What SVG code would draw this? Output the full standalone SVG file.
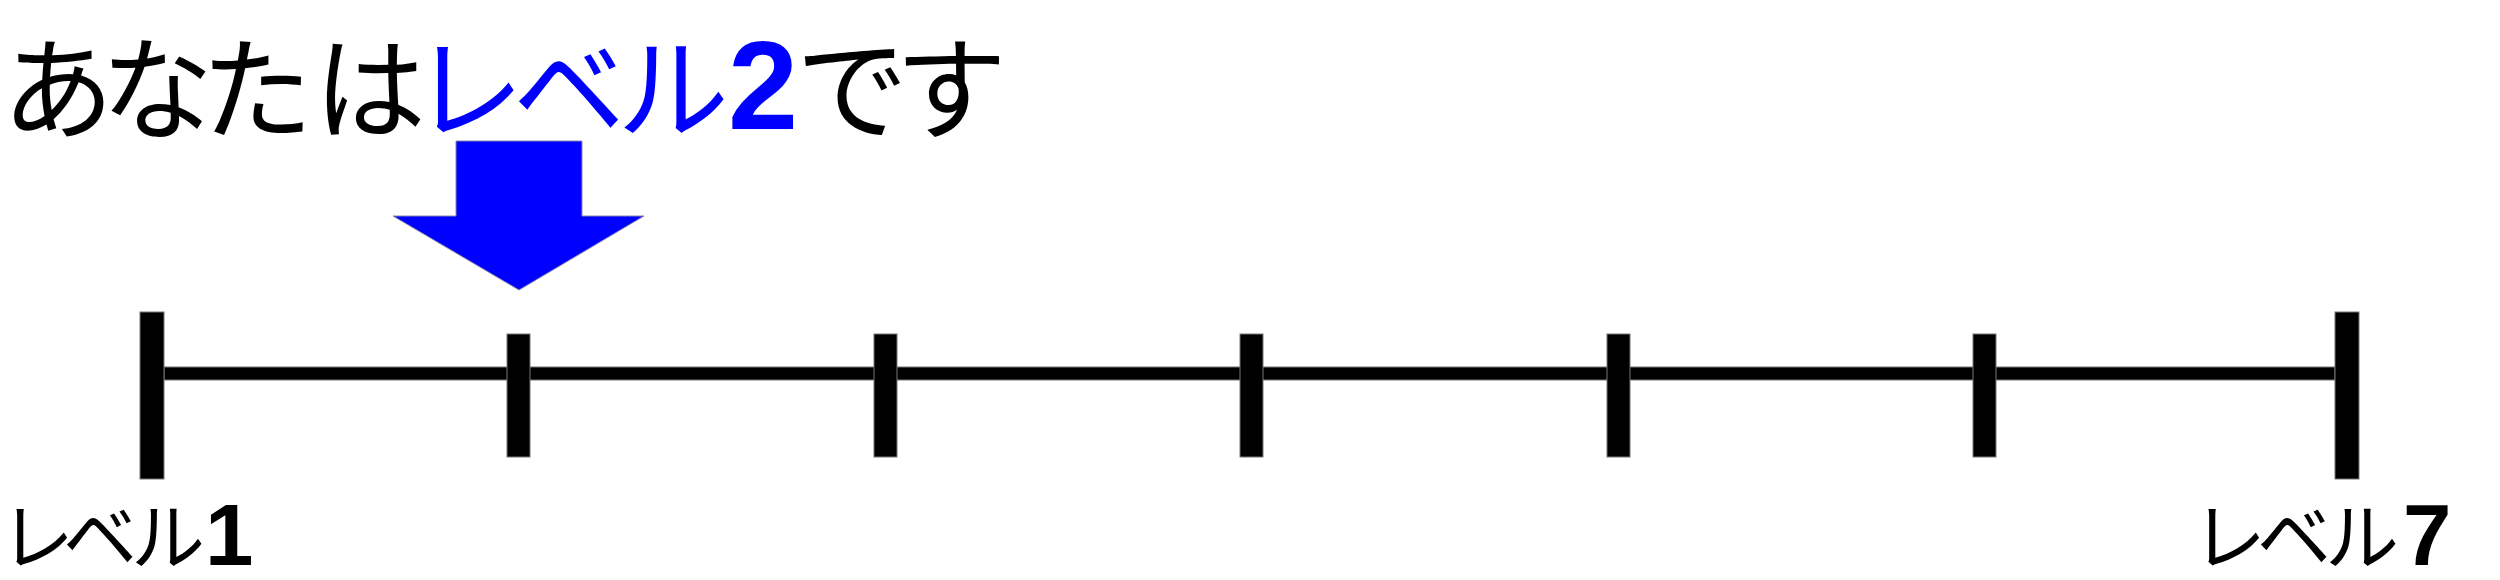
<svg xmlns="http://www.w3.org/2000/svg" width="2500" height="580" viewBox="0 0 2500 580">
  <style>
    .bar { fill: #000000; stroke: #777777; stroke-width: 1; }
    .jp { font-family: "Noto Sans CJK JP", "Liberation Sans", sans-serif; fill: #000000; }
    .num { font-family: "Liberation Sans", Arial, sans-serif; font-weight: bold; fill: #000000; }
    .blue { fill: #0000FF; }
  </style>
  <rect width="2500" height="580" fill="#ffffff"/>
  <g id="title">
    <text class="jp" x="2 101 201 314" y="131" font-size="112">あなたは</text>
    <text class="jp blue" x="412 513 617" y="131" font-size="112">レベル</text>
    <text class="num blue" x="728" y="129" font-size="126">2</text>
    <text class="jp" x="796 895" y="131" font-size="112">です</text>
  </g>
  <g id="arrow">
    <polygon points="456,141 582,141 582,216 644,216 519,290 393,216 456,216" fill="#0000FF" stroke="#8888aa" stroke-width="1"/>
  </g>
  <g id="connectors">
    <rect class="bar" x="164" y="367" width="2171" height="13"/>
  </g>
  <g id="tick1"><rect class="bar" x="140" y="312" width="24" height="167"/></g>
  <g id="tick2"><rect class="bar" x="507" y="334" width="23" height="123"/></g>
  <g id="tick3"><rect class="bar" x="874" y="334" width="23" height="123"/></g>
  <g id="tick4"><rect class="bar" x="1240" y="334" width="23" height="123"/></g>
  <g id="tick5"><rect class="bar" x="1607" y="334" width="23" height="123"/></g>
  <g id="tick6"><rect class="bar" x="1973" y="334" width="23" height="123"/></g>
  <g id="tick7"><rect class="bar" x="2335" y="312" width="24" height="167"/></g>
  <g id="label-level1">
    <text class="jp" x="0 63 131" y="564" font-size="74">レベル</text>
    <text class="num" x="205" y="565" font-size="87">1</text>
  </g>
  <g id="label-level7">
    <text class="jp" x="2192 2257 2325" y="564" font-size="74">レベル</text>
    <text class="num" x="2403" y="565" font-size="87">7</text>
  </g>
</svg>
